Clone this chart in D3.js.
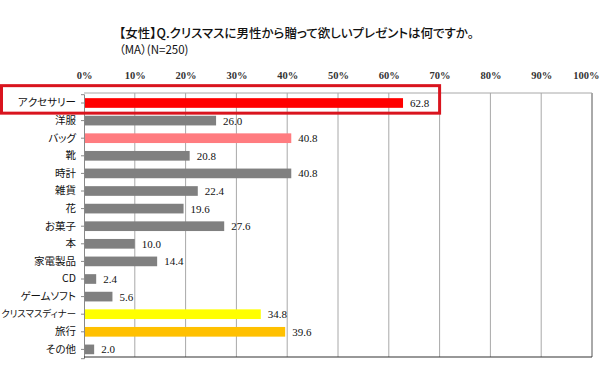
<!DOCTYPE html>
<html><head><meta charset="utf-8">
<script src="https://cdn.jsdelivr.net/npm/d3@7"></script>
<style>body{margin:0;background:#fff} text{font-feature-settings:'palt' 1;}</style>
</head><body>
<svg id="c" width="600" height="366"></svg>
<script>
const categories = ["アクセサリー","洋服","バッグ","靴","時計","雑貨","花","お菓子","本","家電製品","CD","ゲームソフト","クリスマスディナー","旅行","その他"];
const values = [62.8,26.0,40.8,20.8,40.8,22.4,19.6,27.6,10.0,14.4,2.4,5.6,34.8,39.6,2.0];
const barColors = ["#ff0000","#808080","#ff7c80","#808080","#808080","#808080","#808080","#808080","#808080","#808080","#808080","#808080","#ffff00","#ffc000","#808080"];
const tickValues = [0,10,20,30,40,50,60,70,80,90,100];
const titleLine1 = "【女性】Q.クリスマスに男性から贈って欲しいプレゼントは何ですか。";
const titleLine2 = "（MA）(N=250)";

const svg = d3.select("#c");
const pL = 84, pR = 592, pT = 93, pB = 357;
const x = d3.scaleLinear().domain([0,100]).range([pL,pR]);
const y = d3.scaleBand().domain(categories).range([pT+1.2,pB+1.2]).paddingInner(0.45).paddingOuter(0.225);
const serif = "'Liberation Serif','DejaVu Serif',serif";
const jp = "'Noto Sans CJK JP','Noto Sans',sans-serif";

// title
svg.append("text").attr("x",119).attr("y",38).attr("font-family",jp).attr("font-size",12.5).attr("font-weight","500").attr("fill","#111").text(titleLine1);
svg.append("text").attr("x",119).attr("y",54).attr("font-family",jp).attr("font-size",11.5).attr("fill","#111").text(titleLine2);

// gridlines
svg.append("g").selectAll("line").data(tickValues.slice(1)).join("line")
  .attr("x1",d=>x(d)).attr("x2",d=>x(d)).attr("y1",pT).attr("y2",pB)
  .attr("stroke",d=>d===100?"#555":"#a8a8a8").attr("stroke-width",1);
svg.append("line").attr("x1",pL).attr("x2",pR).attr("y1",pT).attr("y2",pT).attr("stroke","#a8a8a8");

// top axis labels
const ax = d3.axisTop(x).tickValues(tickValues).tickFormat(d=>d+"%").tickSize(0).tickPadding(0);
const gAx = svg.append("g").attr("transform",`translate(0,79)`).call(ax);
gAx.select(".domain").remove();
gAx.selectAll("text").attr("font-family",serif).attr("font-size",10.5).attr("font-weight","bold").attr("fill","#333").attr("dy",0);
gAx.selectAll("text").filter(d=>d===100).attr("text-anchor","end").attr("x",599-x(100));

// left axis
const ay = d3.axisLeft(y).tickSize(3).tickPadding(5);
const gAy = svg.append("g").attr("transform",`translate(${pL},0)`).call(ay);
gAy.select(".domain").attr("stroke","#888");
gAy.selectAll(".tick line").attr("stroke","#888");
gAy.selectAll("text").attr("font-family",jp).attr("font-size",10.5).attr("fill","#111")
  .each(function(){
    const w = this.getComputedTextLength();
    if (w > 75) d3.select(this).attr("font-size", 10.5*75/w);
  });

// bottom line
svg.append("line").attr("x1",pL).attr("x2",pR).attr("y1",pB).attr("y2",pB).attr("stroke","#333").attr("stroke-width",1.2);

// bars
svg.append("g").selectAll("rect").data(values).join("rect")
  .attr("x",x(0)+1).attr("y",(d,i)=>y(categories[i]))
  .attr("width",d=>x(d)-x(0)-1).attr("height",y.bandwidth())
  .attr("fill",(d,i)=>barColors[i]);

// value labels
svg.append("g").selectAll("text").data(values).join("text")
  .attr("x",d=>x(d)+7).attr("y",(d,i)=>y(categories[i])+y.bandwidth()/2+4)
  .attr("font-family",serif).attr("font-size",11).attr("fill","#111")
  .text(d=>d.toFixed(1));

// highlight box
const y0 = y(categories[0]);
svg.append("rect").attr("x",1.5).attr("y",y0-12.5).attr("width",x(70)-1.5).attr("height",27.5)
  .attr("fill","none").attr("stroke","#d9141e").attr("stroke-width",3);
</script>
</body></html>
